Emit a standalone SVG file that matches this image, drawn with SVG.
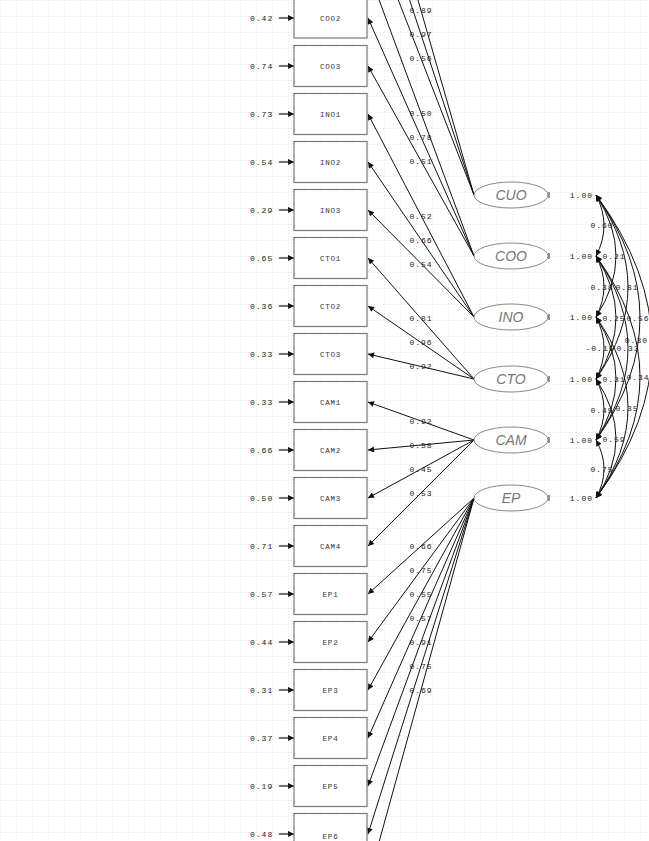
<svg xmlns="http://www.w3.org/2000/svg" width="649" height="841" viewBox="0 0 649 841">
<style>
.box{fill:#fff;stroke:#777;stroke-width:1.2}
.ell{fill:#fff;stroke:#888;stroke-width:1}
.bl{font-family:"Liberation Mono",monospace;font-size:7.5px;fill:#333;text-anchor:middle;letter-spacing:0.8px}
.num{font-family:"Liberation Mono",monospace;font-size:8px;fill:#222;letter-spacing:1px}
.mid{text-anchor:middle}
.end{text-anchor:end}
.fl{font-family:"Liberation Sans",Arial,sans-serif;font-style:italic;font-size:14px;fill:#777;text-anchor:middle}
.ln{stroke:#111;stroke-width:1;fill:none;marker-end:url(#ah)}
.cv{stroke:#111;stroke-width:1;fill:none;marker-start:url(#ah);marker-end:url(#ah)}
.er{stroke:#111;stroke-width:1.2;fill:none;marker-end:url(#ah2)}
</style>
<defs>
<marker id="ah" viewBox="0 0 10 10" refX="10" refY="5" markerWidth="9" markerHeight="6" orient="auto-start-reverse" markerUnits="userSpaceOnUse"><path d="M0,0 L10,5 L0,10 z" fill="#111"/></marker>
<marker id="ah2" viewBox="0 0 10 10" refX="10" refY="5" markerWidth="8" markerHeight="6" orient="auto" markerUnits="userSpaceOnUse"><path d="M0,0 L10,5 L0,10 z" fill="#111"/></marker>
<pattern id="grid" width="16" height="16" patternUnits="userSpaceOnUse"><path d="M0,0.5 H16 M0.5,0 V16" stroke="#e8e8e8" stroke-width="1" stroke-dasharray="1 2" fill="none"/></pattern>
</defs>
<rect width="649" height="841" fill="#fff"/>
<rect width="649" height="841" fill="url(#grid)"/>

<g id="connectors">
<line class="ln" x1="474" y1="195" x2="368" y2="-174"/>
<line class="ln" x1="474" y1="195" x2="368" y2="-126"/>
<line class="ln" x1="474" y1="195" x2="368" y2="-78"/>
<line class="ln" x1="474" y1="256" x2="368" y2="-30"/>
<line class="ln" x1="474" y1="256" x2="368" y2="18"/>
<line class="ln" x1="474" y1="256" x2="368" y2="66"/>
<line class="ln" x1="474" y1="317" x2="368" y2="114"/>
<line class="ln" x1="474" y1="317" x2="368" y2="162"/>
<line class="ln" x1="474" y1="317" x2="368" y2="210"/>
<line class="ln" x1="474" y1="379" x2="368" y2="258"/>
<line class="ln" x1="474" y1="379" x2="368" y2="306"/>
<line class="ln" x1="474" y1="379" x2="368" y2="354"/>
<line class="ln" x1="474" y1="440" x2="368" y2="402"/>
<line class="ln" x1="474" y1="440" x2="368" y2="450"/>
<line class="ln" x1="474" y1="440" x2="368" y2="498"/>
<line class="ln" x1="474" y1="440" x2="368" y2="546"/>
<line class="ln" x1="474" y1="498" x2="368" y2="594"/>
<line class="ln" x1="474" y1="498" x2="368" y2="642"/>
<line class="ln" x1="474" y1="498" x2="368" y2="690"/>
<line class="ln" x1="474" y1="498" x2="368" y2="738"/>
<line class="ln" x1="474" y1="498" x2="368" y2="786"/>
<line class="ln" x1="474" y1="498" x2="368" y2="834"/>
<line class="ln" x1="474" y1="498" x2="368" y2="882"/>

<line class="er" x1="279" y1="18" x2="294" y2="18"/>
<line class="er" x1="279" y1="66" x2="294" y2="66"/>
<line class="er" x1="279" y1="114" x2="294" y2="114"/>
<line class="er" x1="279" y1="162" x2="294" y2="162"/>
<line class="er" x1="279" y1="210" x2="294" y2="210"/>
<line class="er" x1="279" y1="258" x2="294" y2="258"/>
<line class="er" x1="279" y1="306" x2="294" y2="306"/>
<line class="er" x1="279" y1="354" x2="294" y2="354"/>
<line class="er" x1="279" y1="402" x2="294" y2="402"/>
<line class="er" x1="279" y1="450" x2="294" y2="450"/>
<line class="er" x1="279" y1="498" x2="294" y2="498"/>
<line class="er" x1="279" y1="546" x2="294" y2="546"/>
<line class="er" x1="279" y1="594" x2="294" y2="594"/>
<line class="er" x1="279" y1="642" x2="294" y2="642"/>
<line class="er" x1="279" y1="690" x2="294" y2="690"/>
<line class="er" x1="279" y1="738" x2="294" y2="738"/>
<line class="er" x1="279" y1="786" x2="294" y2="786"/>
<line class="er" x1="279" y1="834" x2="294" y2="834"/>

<path class="cv" d="M596,195 Q612,225.5 596,256"/>
<path class="cv" d="M596,256 Q612,286.5 596,317"/>
<path class="cv" d="M596,317 Q612,348 596,379"/>
<path class="cv" d="M596,379 Q612,409.5 596,440"/>
<path class="cv" d="M596,440 Q612,469 596,498"/>
<path class="cv" d="M596,195 Q636,256 596,317"/>
<path class="cv" d="M596,256 Q636,317.5 596,379"/>
<path class="cv" d="M596,317 Q636,378.5 596,440"/>
<path class="cv" d="M596,379 Q636,438.5 596,498"/>
<path class="cv" d="M596,195 Q660,287 596,379"/>
<path class="cv" d="M596,256 Q660,348 596,440"/>
<path class="cv" d="M596,317 Q660,407.5 596,498"/>
<path class="cv" d="M596,195 Q684,317.5 596,440"/>
<path class="cv" d="M596,256 Q684,377 596,498"/>
<path class="cv" d="M596,195 Q708,346.5 596,498"/>

<g class="num mid">
<text x="421" y="13">0.89</text>
<text x="421" y="37">0.97</text>
<text x="421" y="61">0.56</text>
<text x="421" y="116">0.50</text>
<text x="421" y="140">0.78</text>
<text x="421" y="164">0.51</text>
<text x="421" y="219">0.52</text>
<text x="421" y="243">0.66</text>
<text x="421" y="267">0.54</text>
<text x="421" y="321">0.81</text>
<text x="421" y="345">0.96</text>
<text x="421" y="369">0.92</text>
<text x="421" y="424">0.92</text>
<text x="421" y="448">0.58</text>
<text x="421" y="472">0.45</text>
<text x="421" y="496">0.53</text>
<text x="421" y="549">0.66</text>
<text x="421" y="573">0.75</text>
<text x="421" y="597">0.55</text>
<text x="421" y="621">0.57</text>
<text x="421" y="645">0.91</text>
<text x="421" y="669">0.75</text>
<text x="421" y="693">0.69</text>
</g>
<g class="num mid">
<text x="602" y="228">0.60</text>
<text x="602" y="289.5">0.38</text>
<text x="600" y="351">-0.15</text>
<text x="602" y="412.5">0.45</text>
<text x="602" y="472">0.75</text>
<text x="614" y="259">0.21</text>
<text x="614" y="320.5">0.25</text>
<text x="614" y="381.5">0.31</text>
<text x="614" y="441.5">0.59</text>
<text x="627" y="290">0.81</text>
<text x="628" y="351">0.33</text>
<text x="627" y="410.5">0.35</text>
<text x="638" y="320.5">0.56</text>
<text x="638" y="380">0.34</text>
<text class="end" x="648" y="343">0.30</text>
</g>
</g>

<g id="errors" class="num">
<text x="250" y="21">0.42</text>
<text x="250" y="69">0.74</text>
<text x="250" y="117">0.73</text>
<text x="250" y="165">0.54</text>
<text x="250" y="213">0.29</text>
<text x="250" y="261">0.65</text>
<text x="250" y="309">0.36</text>
<text x="250" y="357">0.33</text>
<text x="250" y="405">0.33</text>
<text x="250" y="453">0.66</text>
<text x="250" y="501">0.50</text>
<text x="250" y="549">0.71</text>
<text x="250" y="597">0.57</text>
<text x="250" y="645">0.44</text>
<text x="250" y="693">0.31</text>
<text x="250" y="741">0.37</text>
<text x="250" y="789">0.19</text>
<text x="250" y="837">0.48</text>
</g>

<g id="COO2"><rect class="box" x="294" y="-3" width="73" height="41"/><text class="bl" x="330.5" y="20.5">COO2</text></g>
<g id="COO3"><rect class="box" x="294" y="45.5" width="73" height="41"/><text class="bl" x="330.5" y="68.5">COO3</text></g>
<g id="INO1"><rect class="box" x="294" y="93.5" width="73" height="41"/><text class="bl" x="330.5" y="116.5">INO1</text></g>
<g id="INO2"><rect class="box" x="294" y="141.5" width="73" height="41"/><text class="bl" x="330.5" y="164.5">INO2</text></g>
<g id="INO3"><rect class="box" x="294" y="189.5" width="73" height="41"/><text class="bl" x="330.5" y="212.5">INO3</text></g>
<g id="CTO1"><rect class="box" x="294" y="237.5" width="73" height="41"/><text class="bl" x="330.5" y="260.5">CTO1</text></g>
<g id="CTO2"><rect class="box" x="294" y="285.5" width="73" height="41"/><text class="bl" x="330.5" y="308.5">CTO2</text></g>
<g id="CTO3"><rect class="box" x="294" y="333.5" width="73" height="41"/><text class="bl" x="330.5" y="356.5">CTO3</text></g>
<g id="CAM1"><rect class="box" x="294" y="381.5" width="73" height="41"/><text class="bl" x="330.5" y="404.5">CAM1</text></g>
<g id="CAM2"><rect class="box" x="294" y="429.5" width="73" height="41"/><text class="bl" x="330.5" y="452.5">CAM2</text></g>
<g id="CAM3"><rect class="box" x="294" y="477.5" width="73" height="41"/><text class="bl" x="330.5" y="500.5">CAM3</text></g>
<g id="CAM4"><rect class="box" x="294" y="525.5" width="73" height="41"/><text class="bl" x="330.5" y="548.5">CAM4</text></g>
<g id="EP1"><rect class="box" x="294" y="573.5" width="73" height="41"/><text class="bl" x="330.5" y="596.5">EP1</text></g>
<g id="EP2"><rect class="box" x="294" y="621.5" width="73" height="41"/><text class="bl" x="330.5" y="644.5">EP2</text></g>
<g id="EP3"><rect class="box" x="294" y="669.5" width="73" height="41"/><text class="bl" x="330.5" y="692.5">EP3</text></g>
<g id="EP4"><rect class="box" x="294" y="717.5" width="73" height="41"/><text class="bl" x="330.5" y="740.5">EP4</text></g>
<g id="EP5"><rect class="box" x="294" y="765.5" width="73" height="41"/><text class="bl" x="330.5" y="788.5">EP5</text></g>
<g id="EP6"><rect class="box" x="294" y="813.5" width="73" height="41"/><text class="bl" x="330.5" y="838.5">EP6</text></g>

<g id="CUO"><ellipse class="ell" cx="511" cy="195" rx="37" ry="13"/><text class="fl" x="511" y="200">CUO</text><line x1="549" y1="192" x2="549" y2="198" stroke="#333"/><text class="num end" x="593" y="198">1.00</text></g>
<g id="COO"><ellipse class="ell" cx="511" cy="256" rx="37" ry="13"/><text class="fl" x="511" y="261">COO</text><line x1="549" y1="253" x2="549" y2="259" stroke="#333"/><text class="num end" x="593" y="259">1.00</text></g>
<g id="INO"><ellipse class="ell" cx="511" cy="317" rx="37" ry="13"/><text class="fl" x="511" y="322">INO</text><line x1="549" y1="314" x2="549" y2="320" stroke="#333"/><text class="num end" x="593" y="320">1.00</text></g>
<g id="CTO"><ellipse class="ell" cx="511" cy="379" rx="37" ry="13"/><text class="fl" x="511" y="384">CTO</text><line x1="549" y1="376" x2="549" y2="382" stroke="#333"/><text class="num end" x="593" y="382">1.00</text></g>
<g id="CAM"><ellipse class="ell" cx="511" cy="440" rx="37" ry="13"/><text class="fl" x="511" y="445">CAM</text><line x1="549" y1="437" x2="549" y2="443" stroke="#333"/><text class="num end" x="593" y="443">1.00</text></g>
<g id="EP"><ellipse class="ell" cx="511" cy="498" rx="37" ry="13"/><text class="fl" x="511" y="503">EP</text><line x1="549" y1="495" x2="549" y2="501" stroke="#333"/><text class="num end" x="593" y="501">1.00</text></g>
</svg>
